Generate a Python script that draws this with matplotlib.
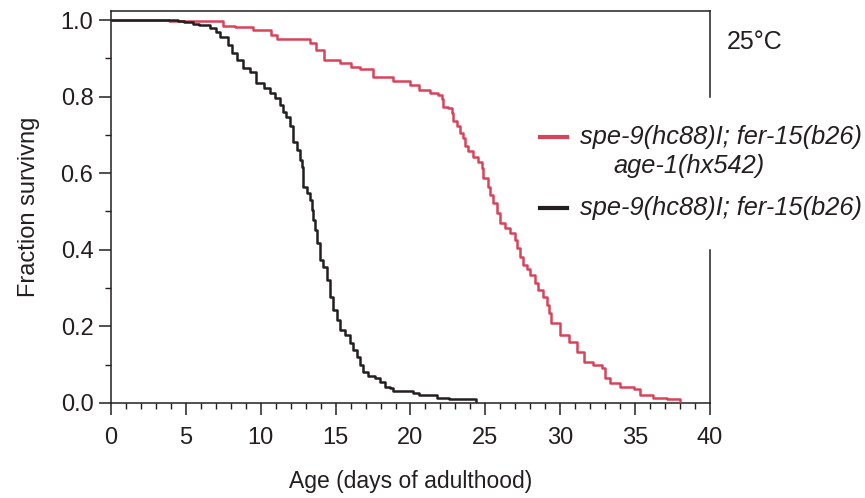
import numpy as np
import matplotlib
matplotlib.use('Agg')
import matplotlib.pyplot as plt
from matplotlib.ticker import MultipleLocator, FormatStrFormatter

plt.rcParams['font.family'] = ['Liberation Sans', 'DejaVu Sans']
plt.rcParams['font.size'] = 17

# survival curves (day, fraction surviving)
days_wt = [0, 4.5, 4.9, 5.5, 5.9, 6.6, 7.0, 7.3, 7.8, 8.1, 8.4, 8.8, 9.3, 9.7, 10.2, 10.6,
           10.95, 11.28, 11.5, 11.72, 11.95, 12.17, 12.4, 12.62, 12.73, 12.84, 13.07, 13.29,
           13.4, 13.51, 13.62, 13.74, 13.96, 14.18, 14.4, 14.62, 14.84, 15.07, 15.29, 15.63,
           15.96, 16.18, 16.4, 16.63, 16.85, 17.18, 17.63, 17.96, 18.3, 18.63, 18.85, 20.2,
           20.6, 21.8, 22.6, 24.4]
surv_wt = [1.0, 0.997, 0.995, 0.99, 0.987, 0.979, 0.968, 0.956, 0.935, 0.915, 0.896, 0.875,
           0.864, 0.835, 0.822, 0.809, 0.796, 0.778, 0.761, 0.747, 0.722, 0.682, 0.661, 0.634,
           0.617, 0.565, 0.547, 0.530, 0.504, 0.478, 0.452, 0.417, 0.373, 0.356, 0.321, 0.278,
           0.243, 0.217, 0.191, 0.178, 0.156, 0.138, 0.121, 0.099, 0.082, 0.070, 0.064, 0.056,
           0.043, 0.038, 0.032, 0.026, 0.021, 0.013, 0.010, 0.005]

days_age1 = [0, 3.9, 7.5, 8.3, 9.5, 10.7, 11.1, 13.3, 13.7, 14.2, 15.3, 16.0, 16.6, 17.5,
             18.8, 20.0, 20.6, 21.3, 21.86, 22.08, 22.19, 22.5, 22.74, 22.85, 23.08, 23.3,
             23.52, 23.63, 23.86, 24.19, 24.53, 24.75, 24.86, 25.2, 25.3, 25.53, 25.75, 25.97,
             26.3, 26.64, 26.98, 27.09, 27.31, 27.53, 27.76, 27.98, 28.31, 28.53, 28.87, 29.1,
             29.25, 29.4, 30.0, 30.6, 31.1, 31.6, 32.2, 32.8, 33.0, 33.3, 34.0, 34.9, 35.3,
             36.2, 37.1, 38.0]
surv_age1 = [1.0, 0.997, 0.985, 0.983, 0.974, 0.961, 0.950, 0.940, 0.922, 0.896, 0.888,
             0.877, 0.873, 0.851, 0.840, 0.830, 0.817, 0.809, 0.803, 0.795, 0.774, 0.769,
             0.756, 0.735, 0.722, 0.704, 0.691, 0.670, 0.657, 0.643, 0.630, 0.613, 0.587,
             0.565, 0.543, 0.521, 0.495, 0.469, 0.456, 0.443, 0.426, 0.404, 0.382, 0.360,
             0.351, 0.334, 0.312, 0.295, 0.277, 0.256, 0.235, 0.209, 0.178, 0.159, 0.133,
             0.107, 0.099, 0.091, 0.065, 0.052, 0.042, 0.036, 0.021, 0.013, 0.010, 0.005]

label_age1 = 'spe-9(hc88)I; fer-15(b26)'
label_age1_2 = 'age-1(hx542)'
label_wt = 'spe-9(hc88)I; fer-15(b26)'

red = '#d8435a'
blk = '#231f20'

fig = plt.figure(figsize=(8.65, 4.98), dpi=100)
ax = fig.add_axes([0.1283, 0.1908, 0.6925, 0.7871])

ax.step(days_age1, surv_age1, where='post', color=red, lw=1.8, zorder=3)
ax.step(days_wt, surv_wt, where='post', color=blk, lw=1.8, zorder=4)

ax.set_xlim(0, 40)
ax.set_ylim(0, 1.0235)
ax.xaxis.set_major_locator(MultipleLocator(5))
ax.xaxis.set_minor_locator(MultipleLocator(1))
ax.yaxis.set_major_locator(MultipleLocator(0.2))
ax.yaxis.set_minor_locator(MultipleLocator(0.1))
ax.yaxis.set_major_formatter(FormatStrFormatter('%.1f'))

ax.tick_params(axis='x', which='major', length=8.6, width=1.1, pad=9, colors=blk)
ax.tick_params(axis='x', which='minor', length=4.3, width=1.0, colors=blk)
ax.tick_params(axis='y', which='major', length=8.6, width=1.1, pad=4, colors=blk)
ax.tick_params(axis='y', which='minor', length=4.0, width=1.0, colors=blk)

for s in ['left', 'bottom', 'top', 'right']:
    ax.spines[s].set_linewidth(1.1)
    ax.spines[s].set_color(blk)
# right spine broken where the legend sits
ax.spines['right'].set_bounds(0, 0.40)
ax.axvline(40, ymin=0.781, ymax=1, color=blk, lw=1.1, clip_on=False)

ax.set_xlabel('Age (days of adulthood)', color=blk, fontsize=16.5, labelpad=15)
ax.set_ylabel('Fraction survivng', color=blk, labelpad=15)

# legend drawn by hand
ax.plot([0.716, 0.761], [0.679, 0.679], transform=ax.transAxes, color=red, lw=3, clip_on=False)
ax.plot([0.716, 0.761], [0.497, 0.497], transform=ax.transAxes, color=blk, lw=3, clip_on=False)
ax.text(0.783, 0.679, label_age1, transform=ax.transAxes, style='italic', va='center',
        color=blk, fontsize=18.3)
ax.text(0.838, 0.605, label_age1_2, transform=ax.transAxes, style='italic', va='center',
        color=blk, fontsize=18.3)
ax.text(0.783, 0.497, label_wt, transform=ax.transAxes, style='italic', va='center',
        color=blk, fontsize=18.3)

ax.text(1.028, 0.921, '25°C', transform=ax.transAxes, va='center', color=blk, fontsize=18)

plt.savefig('out.png', dpi=100)
